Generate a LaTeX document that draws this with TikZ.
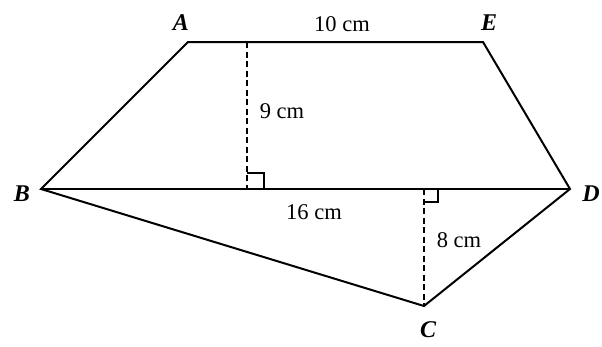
\documentclass[tikz,border=0pt]{standalone}
\usepackage{fontspec}
\setmainfont{Liberation Serif}
\usetikzlibrary{calc}
\begin{document}
\begin{tikzpicture}[x=1pt,y=1pt,
  edge/.style={line width=2pt,line join=miter},
  hgt/.style={line width=1.4pt,dash pattern=on 6pt off 3.5pt},
  rtmark/.style={line width=1.3pt},
  vlabel/.style={font=\fontsize{24}{26}\selectfont\bfseries\itshape,inner sep=0pt},
  mlabel/.style={font=\fontsize{22.5}{24}\selectfont,inner sep=0pt}]
\useasboundingbox (0,0) rectangle (602,-346);
\coordinate (A) at (188,-42);
\coordinate (E) at (483,-42);
\coordinate (B) at (41,-189);
\coordinate (D) at (570,-189);
\coordinate (C) at (424,-306);
\coordinate (P) at (247,-42);
\coordinate (Q) at (247,-189);
\coordinate (R) at (424,-189);
\draw[edge] (A) -- (E) -- (D) -- (C) -- (B) -- cycle;
\draw[edge] (B) -- (D);
\draw[hgt] (P) -- (Q);
\draw[hgt] (R) -- (C);
\draw[rtmark] ($(Q)+(0,16)$) -- ++(17,0) -- ++(0,-16);
\draw[rtmark] ($(R)+(0,-13)$) -- ++(14,0) -- ++(0,13);
\node[vlabel] (lA) at (181,-23) {A};
\node[vlabel] (lE) at (489,-23) {E};
\node[vlabel] (lB) at (22,-194) {B};
\node[vlabel] (lD) at (591,-194) {D};
\node[vlabel] (lC) at (428,-330) {C};
\node[mlabel] (l10) at (342,-24) {10 cm};
\node[mlabel] (l9) at (282,-111) {9 cm};
\node[mlabel] (l16) at (314,-212) {16 cm};
\node[mlabel] (l8) at (459,-240) {8 cm};
\end{tikzpicture}
\end{document}
